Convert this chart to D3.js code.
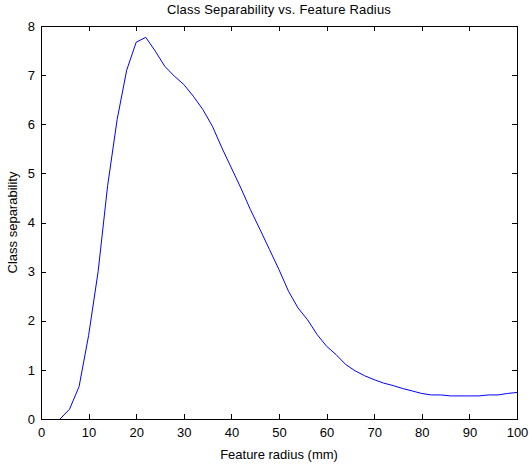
<!DOCTYPE html>
<html>
<head>
<meta charset="utf-8">
<script src="https://cdn.jsdelivr.net/npm/d3@7"></script>
<style>
  html, body { margin: 0; padding: 0; background: #fff; }
  svg { display: block; font-family: "Liberation Sans", Arial, Helvetica, sans-serif; }
</style>
</head>
<body>
<div id="chart"></div>
<script>
/* data */
const radius = [4, 6, 8, 10, 12, 14, 16, 18, 20, 22, 24, 26, 28, 30, 32, 34, 36, 38, 40,
  42, 44, 46, 48, 50, 52, 54, 56, 58, 60, 62, 64, 66, 68, 70, 72, 74, 76, 78, 80,
  82, 84, 86, 88, 90, 92, 94, 96, 98, 100];
const separability = [0.0, 0.2, 0.66, 1.7, 3.0, 4.75, 6.1, 7.1, 7.67, 7.77, 7.49, 7.18, 6.98, 6.81, 6.57, 6.30, 5.96, 5.52, 5.11,
  4.70, 4.26, 3.86, 3.45, 3.04, 2.60, 2.26, 2.02, 1.72, 1.48, 1.31, 1.11, 0.98, 0.88, 0.80, 0.73, 0.68, 0.62, 0.57, 0.52,
  0.49, 0.49, 0.47, 0.47, 0.47, 0.47, 0.49, 0.49, 0.52, 0.54];
const xTicks = [0, 10, 20, 30, 40, 50, 60, 70, 80, 90, 100];
const yTicks = [0, 1, 2, 3, 4, 5, 6, 7, 8];

const W = 529, H = 467;
const margin = { top: 26, right: 12, bottom: 48, left: 41 };
const w = W - margin.left - margin.right;
const h = H - margin.top - margin.bottom;

const svg = d3.select("#chart").append("svg")
  .attr("width", W).attr("height", H);

const g = svg.append("g").attr("transform", `translate(${margin.left},${margin.top})`);

const x = d3.scaleLinear().domain([0, 100]).range([0, w]);
const y = d3.scaleLinear().domain([0, 8]).range([h, 0]);

/* axes: MATLAB style, ticks pointing inward, labels outside */
const xAxis = g.append("g").attr("transform", `translate(0,${h})`)
  .call(d3.axisBottom(x).tickValues(xTicks).tickSizeInner(-5).tickSizeOuter(0).tickPadding(9));
const yAxis = g.append("g")
  .call(d3.axisLeft(y).tickValues(yTicks).tickSizeInner(-5).tickSizeOuter(0).tickPadding(6));
const xTop = g.append("g")
  .call(d3.axisTop(x).tickValues(xTicks).tickSizeInner(-5).tickSizeOuter(0).tickFormat(""));
const yRight = g.append("g").attr("transform", `translate(${w},0)`)
  .call(d3.axisRight(y).tickValues(yTicks).tickSizeInner(-5).tickSizeOuter(0).tickFormat(""));

[xAxis, yAxis, xTop, yRight].forEach(a => {
  a.selectAll("line, path").attr("stroke", "#000").attr("shape-rendering", "crispEdges");
  a.selectAll("text").style("font-size", "13px").style("fill", "#000")
    .style("font-family", "'Liberation Sans', Arial, sans-serif");
});

/* the curve */
const pts = radius.map((r, i) => ({ r, v: separability[i] }));
g.append("path").datum(pts)
  .attr("fill", "none").attr("stroke", "#0000ff").attr("stroke-width", 1)
  .attr("d", d3.line().x(d => x(d.r)).y(d => y(d.v)));

/* labels */
svg.append("text").attr("x", margin.left + w / 2).attr("y", 14)
  .attr("text-anchor", "middle").style("font-size", "13px").style("fill", "#000")
  .style("letter-spacing", "0.2px")
  .text("Class Separability vs. Feature Radius");

svg.append("text").attr("x", margin.left + w / 2).attr("y", 459)
  .attr("text-anchor", "middle").style("font-size", "13px").style("fill", "#000")
  .text("Feature radius (mm)");

svg.append("text").attr("transform", "rotate(-90)")
  .attr("x", -(margin.top + h / 2)).attr("y", 17)
  .attr("text-anchor", "middle").style("font-size", "13px").style("fill", "#000")
  .text("Class separability");
</script>
</body>
</html>
